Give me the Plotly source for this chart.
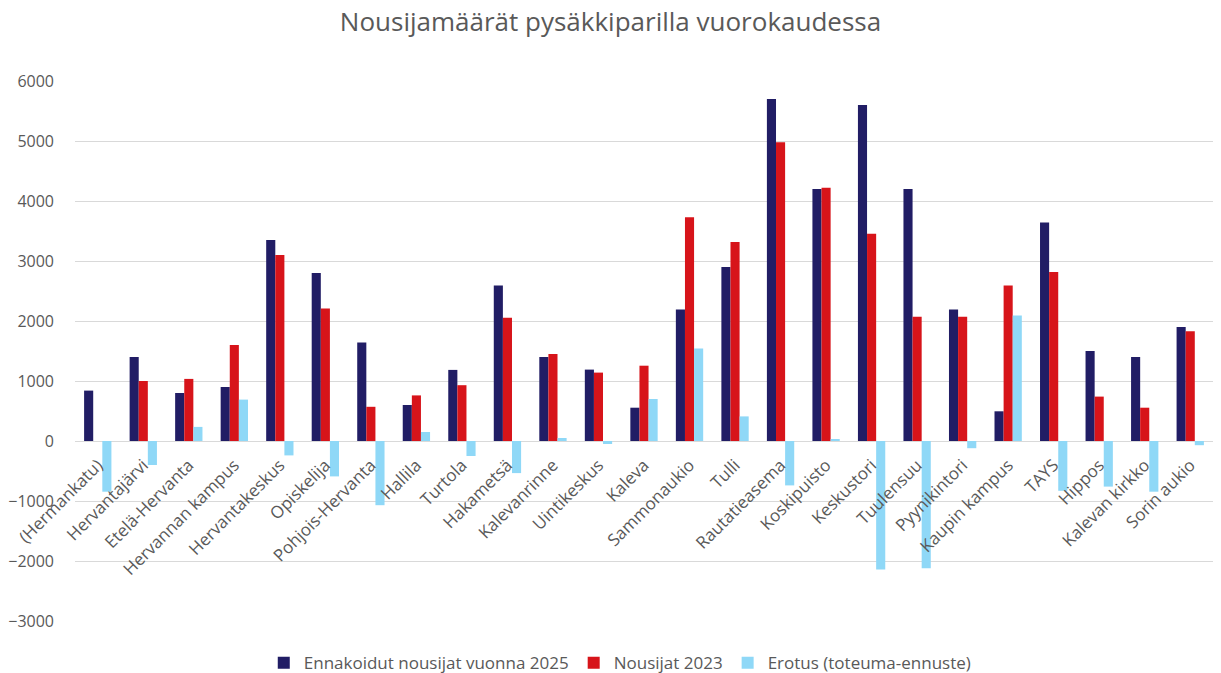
import plotly.graph_objects as go

categories = ["(Hermankatu)", "Hervantajärvi", "Etelä-Hervanta", "Hervannan kampus", "Hervantakeskus",
              "Opiskelija", "Pohjois-Hervanta", "Hallila", "Turtola", "Hakametsä", "Kalevanrinne",
              "Uintikeskus", "Kaleva", "Sammonaukio", "Tulli", "Rautatieasema", "Koskipuisto",
              "Keskustori", "Tuulensuu", "Pyynikintori", "Kaupin kampus", "TAYS", "Hippos",
              "Kalevan kirkko", "Sorin aukio"]

ennuste_2025 = [840, 1400, 800, 900, 3350, 2800, 1640, 600, 1185, 2590, 1400, 1190, 555, 2190, 2900,
                5700, 4200, 5600, 4200, 2190, 495, 3640, 1500, 1400, 1900]
nousijat_2023 = [0, 1000, 1035, 1600, 3100, 2210, 570, 760, 930, 2055, 1450, 1140, 1255, 3730, 3315,
                 4980, 4220, 3455, 2070, 2070, 2590, 2815, 740, 555, 1830]
erotus = [-845, -400, 235, 690, -240, -590, -1070, 150, -250, -535, 50, -50, 700, 1540, 410,
          -740, 20, -2140, -2120, -120, 2090, -830, -760, -845, -70]

series_names = ["Ennakoidut nousijat vuonna 2025", "Nousijat 2023", "Erotus (toteuma-ennuste)"]
colors = ["#211D65", "#D7141A", "#8FD8F7"]

y_ticks = [-3000, -2000, -1000, 0, 1000, 2000, 3000, 4000, 5000, 6000]

fig = go.Figure()
for name, vals, col in zip(series_names, [ennuste_2025, nousijat_2023, erotus], colors):
    fig.add_trace(go.Bar(x=categories, y=vals, name=name, marker=dict(color=col, line=dict(width=0))))

font_family = "Open Sans, Noto Sans, sans-serif"
fig.update_layout(
    width=1221, height=673,
    barmode="group", bargap=0.4, bargroupgap=0,
    plot_bgcolor="white", paper_bgcolor="white",
    margin=dict(l=75, r=8, t=81, b=52, autoexpand=False),
    title=dict(text="Nousijamäärät pysäkkiparilla vuorokaudessa", x=0.5, xanchor="center",
               y=0.967, yanchor="middle",
               font=dict(family=font_family, size=26, color="#595959")),
    font=dict(family=font_family, color="#595959"),
    showlegend=True,
    legend=dict(orientation="h", xref="container", x=0.508, xanchor="center",
                y=-0.078, yanchor="middle",
                font=dict(size=17, color="#595959"), traceorder="normal",
                itemwidth=30, itemsizing="constant"),
    xaxis=dict(anchor="free", position=1/3, tickangle=-45, showgrid=False, showline=False,
               ticks="", automargin=False, ticklabelstandoff=10,
               tickfont=dict(size=17, color="#595959")),
    yaxis=dict(range=[-3000, 6000], tickvals=y_ticks, showgrid=True, gridcolor="#D9D9D9",
               gridwidth=1, zeroline=True, zerolinecolor="#D9D9D9", zerolinewidth=1,
               showline=False, ticks="", ticklabelstandoff=20, automargin=False,
               tickfont=dict(size=16, color="#595959")),
)

fig.write_html("out.html", config={"displayModeBar": False},
               post_script="document.body.style.margin='0';document.body.style.overflow='hidden';")
